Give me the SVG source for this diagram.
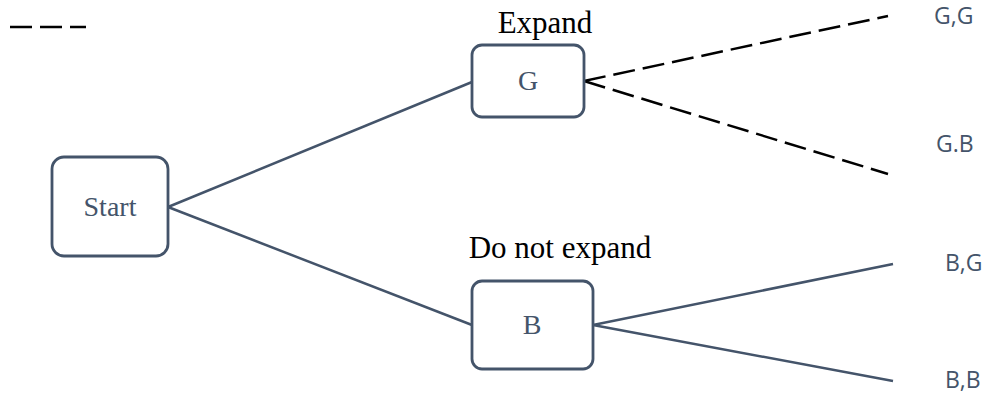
<svg xmlns="http://www.w3.org/2000/svg" width="989" height="397" viewBox="0 0 989 397">
<style>
.box{fill:#fff;stroke:#44546a;stroke-width:2.8}
.ln{stroke:#44546a;stroke-width:2.5;fill:none}
.dash{stroke:#000;stroke-width:2.5;fill:none;stroke-dasharray:22 8}
.nt{font-family:"Liberation Serif","Times New Roman",serif;font-size:28px;fill:#44546a;text-anchor:middle}
.cap{font-family:"Liberation Serif","Times New Roman",serif;font-size:31px;fill:#000;text-anchor:middle}
.out{font-family:"Open Sans","Noto Sans",sans-serif;font-size:23px;fill:#44546a}
</style>
<rect width="989" height="397" fill="#fff"/>
<g id="legend"><line class="dash" x1="10" y1="27" x2="86" y2="27"/></g>
<g id="connectors">
<line class="ln" x1="168" y1="207" x2="472" y2="82"/>
<line class="ln" x1="168" y1="207" x2="472" y2="325"/>
<line class="dash" x1="584" y1="81" x2="888" y2="16"/>
<line class="dash" x1="584" y1="81" x2="888" y2="174"/>
<line class="ln" x1="593" y1="325" x2="893" y2="264"/>
<line class="ln" x1="593" y1="325" x2="893" y2="381"/>
</g>
<g id="start"><rect class="box" x="52" y="157" width="116" height="99" rx="12"/><text class="nt" x="110" y="216">Start</text></g>
<g id="G"><rect class="box" x="472" y="45" width="112" height="72" rx="10"/><text class="nt" x="528" y="90">G</text><text class="cap" x="545" y="33">Expand</text></g>
<g id="B"><rect class="box" x="472" y="281" width="121" height="88" rx="10"/><text class="nt" x="532" y="334">B</text><text class="cap" x="560" y="258">Do not expand</text></g>
<g id="outcomes">
<text class="out" x="934" y="24">G,G</text>
<text class="out" x="936" y="152">G.B</text>
<text class="out" x="945" y="271">B,G</text>
<text class="out" x="945" y="388">B,B</text>
</g>
</svg>
